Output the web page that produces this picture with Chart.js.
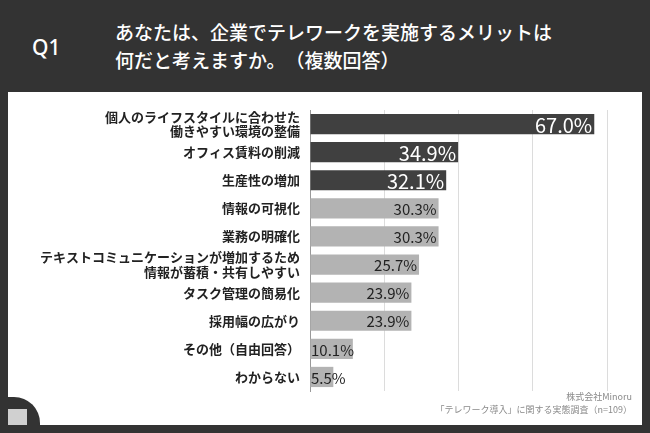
<!DOCTYPE html>
<html>
<head>
<meta charset="utf-8">
<script src="https://cdn.jsdelivr.net/npm/chart.js@4"></script>
<style>
  html, body { margin: 0; padding: 0; }
  body { width: 650px; height: 433px; background: #333333; position: relative; overflow: hidden;
         font-family: "Noto Sans CJK JP", "Noto Sans", sans-serif; }
  #q { position: absolute; left: 32px; top: 33px; color: #fff; font-size: 21px; font-weight: 500;
       font-family: "Noto Sans", sans-serif; }
  #title { position: absolute; left: 115px; top: 18px; color: #fff; font-size: 19px; font-weight: 500; line-height: 28px;
           text-spacing-trim: space-all; }
  #panel { position: absolute; left: 8px; top: 92px; width: 634px; height: 333px; background: #fff; }
  #chartBox { position: absolute; left: 0; top: 0; width: 634px; height: 333px; }
  #foot { position: absolute; right: 10px; top: 298px; color: #8a8a8a; font-size: 9px; line-height: 13px; text-align: right; }
  #corner { position: absolute; left: 0; top: 305px; width: 32px; height: 28px; background: #333; border-top-right-radius: 26px; }
  #icon { position: absolute; left: 0; top: 317px; width: 19px; height: 16px; background: #d0d0d0; }
</style>
</head>
<body>
<div id="q">Q1</div>
<div id="title">あなたは、企業でテレワークを実施するメリットは<br>何だと考えますか。（複数回答）</div>
<div id="panel">
  <div id="chartBox"><canvas id="chart" width="634" height="333"></canvas></div>
  <div id="foot">株式会社Minoru<br>「テレワーク導入」に関する実態調査（n=109）</div>
  <div id="corner"></div>
  <div id="icon"></div>
</div>
<script>
const categories = [
  ['個人のライフスタイルに合わせた', '働きやすい環境の整備'],
  'オフィス賃料の削減',
  '生産性の増加',
  '情報の可視化',
  '業務の明確化',
  ['テキストコミュニケーションが増加するため', '情報が蓄積・共有しやすい'],
  'タスク管理の簡易化',
  '採用幅の広がり',
  'その他（自由回答）',
  'わからない'
];
const values = [67.0, 34.9, 32.1, 30.3, 30.3, 25.7, 23.9, 23.9, 10.1, 5.5];
const topN = 3;

const barColors = values.map((v, i) => i < topN ? '#404040' : '#b3b3b3');

const valueLabels = {
  id: 'valueLabels',
  afterDatasetsDraw(chart) {
    const ctx = chart.ctx;
    const meta = chart.getDatasetMeta(0);
    const left = chart.chartArea.left;
    ctx.save();
    ctx.textBaseline = 'middle';
    meta.data.forEach((bar, i) => {
      const txt = values[i].toFixed(1) + '%';
      if (i < topN) {
        ctx.fillStyle = '#ffffff';
        ctx.font = '20px "Noto Sans CJK JP"';
        ctx.textAlign = 'right';
        ctx.fillText(txt, bar.x - 2, bar.y + 1);
      } else if (values[i] > 15) {
        ctx.fillStyle = '#222222';
        ctx.font = '15px "Noto Sans CJK JP"';
        ctx.textAlign = 'right';
        ctx.fillText(txt, bar.x - 2, bar.y + 1);
      } else {
        ctx.fillStyle = '#222222';
        ctx.font = '15px "Noto Sans CJK JP"';
        ctx.textAlign = 'left';
        ctx.fillText(txt, left + 1, bar.y + 1);
      }
    });
    ctx.restore();
  }
};

new Chart(document.getElementById('chart').getContext('2d'), {
  type: 'bar',
  data: {
    labels: categories,
    datasets: [{
      data: values,
      backgroundColor: barColors,
      borderWidth: 0,
      barPercentage: 0.72,
      categoryPercentage: 1.0
    }]
  },
  options: {
    indexAxis: 'y',
    responsive: false,
    animation: false,
    layout: { padding: { left: 0, right: 35, top: 18, bottom: 34 } },
    plugins: { legend: { display: false }, tooltip: { enabled: false } },
    scales: {
      x: {
        min: 0,
        max: 70,
        ticks: { display: false, stepSize: 17.5 },
        grid: { color: '#dcdcdc', lineWidth: 1, drawTicks: false },
        border: { display: false },
        afterFit(scale) { scale.height = 0; }
      },
      y: {
        ticks: {
          autoSkip: false,
          color: '#222222',
          font: { family: '"Noto Sans CJK JP"', size: 13, weight: 'bold', lineHeight: 1.1 },
          padding: 10
        },
        grid: { display: false, drawTicks: false },
        border: { display: true, color: '#999999', width: 1 },
        afterFit(scale) { scale.width = 302; }
      }
    }
  },
  plugins: [valueLabels]
});
</script>
</body>
</html>
